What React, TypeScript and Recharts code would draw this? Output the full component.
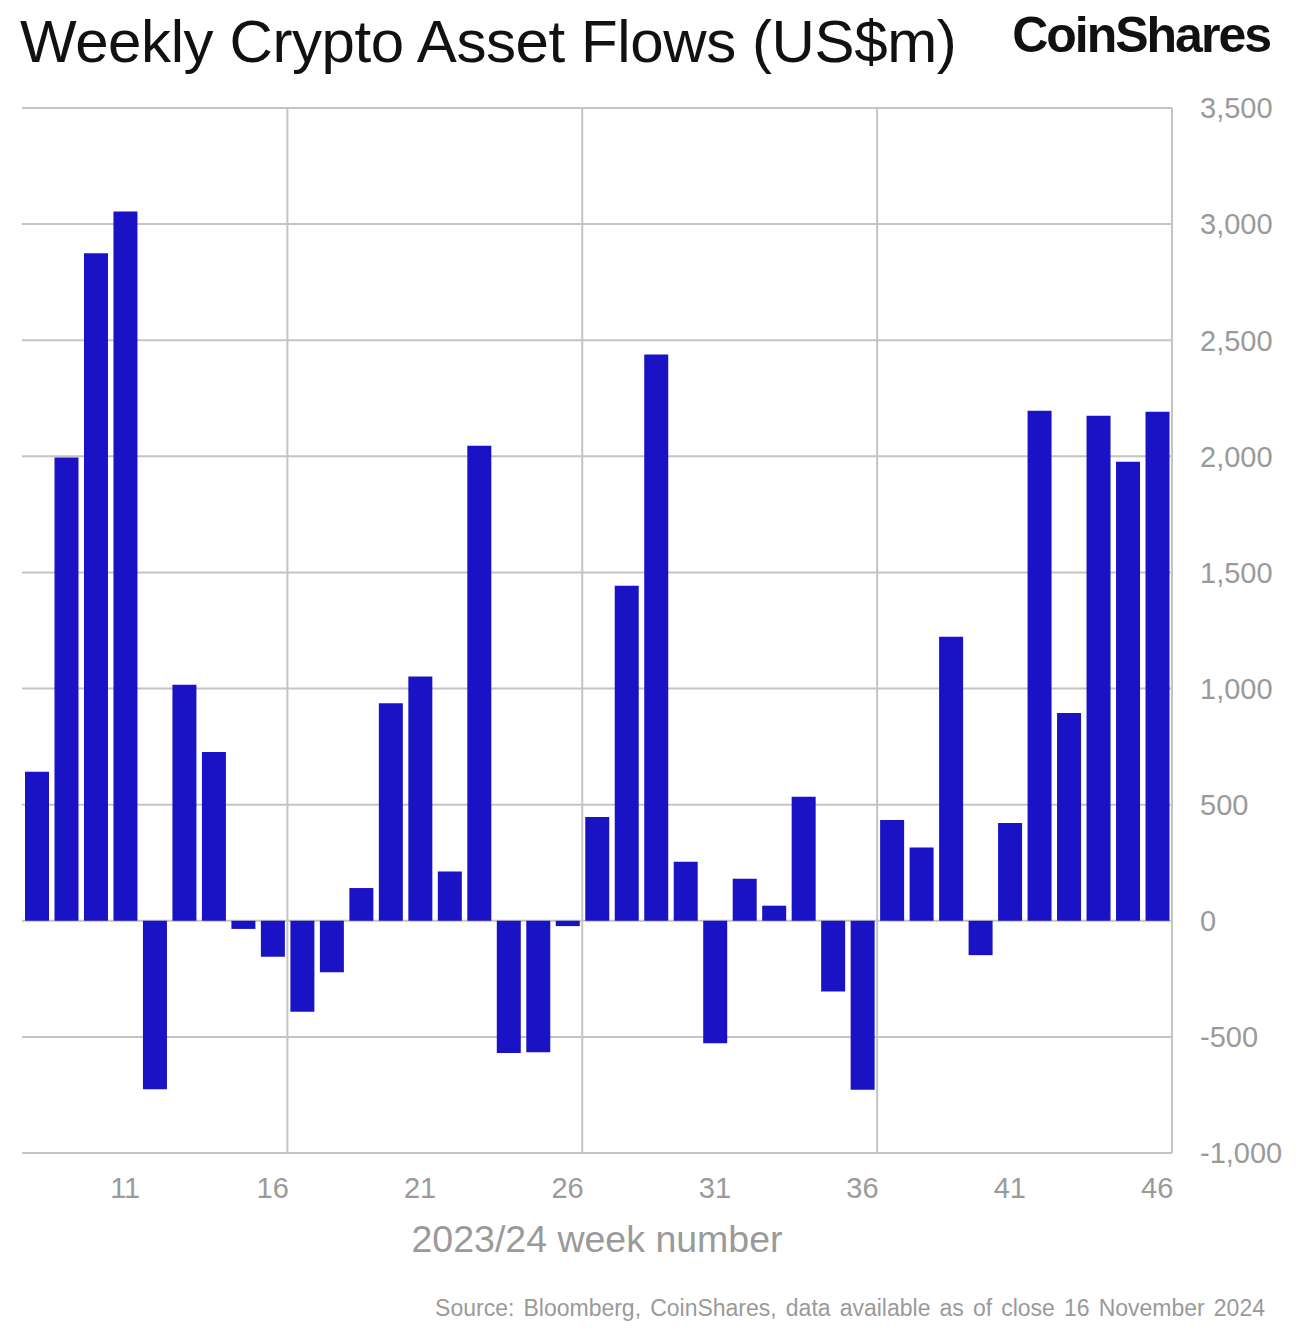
import React from 'react';
import {
  BarChart,
  Bar,
  XAxis,
  YAxis,
  CartesianGrid,
  ReferenceLine,
} from 'recharts';

const weeks = [
  8, 9, 10, 11, 12, 13, 14, 15, 16, 17, 18, 19, 20, 21, 22, 23, 24, 25, 26, 27,
  28, 29, 30, 31, 32, 33, 34, 35, 36, 37, 38, 39, 40, 41, 42, 43, 44, 45, 46,
];
const flows = [
  642, 1995, 2875, 3054, -725, 1016, 727, -35, -155, -392, -222, 141, 937, 1052,
  212, 2046, -569, -566, -23, 447, 1443, 2438, 254, -527, 181, 65, 534, -305,
  -728, 434, 316, 1223, -148, 421, 2196, 895, 2175, 1977, 2192,
];
const weekTicks = [11, 16, 21, 26, 31, 36, 41, 46];
const flowTicks = [-1000, -500, 0, 500, 1000, 1500, 2000, 2500, 3000, 3500];
const weekDomain = [7.5, 46.5];
// boundaries between decades of weeks, drawn as vertical grid lines
const gridWeeks = [16.5, 26.5, 36.5];

const BAR = '#1a13c5';
const GRID = '#c4c4c4';
const MUTED = '#9a9a9a';
const FONT = '"Liberation Sans", Arial, sans-serif';

const data = weeks.map((week, i) => ({ week, flow: flows[i] }));

export default function App() {
  return (
    <div
      style={{
        position: 'absolute',
        left: 0,
        top: 0,
        width: 1304,
        height: 1334,
        background: '#fff',
        fontFamily: FONT,
      }}
    >
      <div
        style={{
          position: 'absolute',
          left: 20,
          top: 12,
          fontSize: 60,
          lineHeight: 1,
          letterSpacing: -0.4,
          color: '#111',
          whiteSpace: 'nowrap',
        }}
      >
        Weekly Crypto Asset Flows (US$m)
      </div>
      <div
        style={{
          position: 'absolute',
          right: 34,
          top: 10,
          fontSize: 50,
          fontWeight: 700,
          lineHeight: 1,
          letterSpacing: -2,
          color: '#111',
          whiteSpace: 'nowrap',
        }}
      >
        CoinShares
      </div>

      <div style={{ position: 'absolute', left: 0, top: 0 }}>
        <BarChart
          width={1304}
          height={1334}
          data={data}
          margin={{ top: 108, right: 0, left: 22, bottom: 71 }}
        >
          <CartesianGrid vertical={false} stroke={GRID} strokeWidth={2} />
          {gridWeeks.map((w) => (
            <ReferenceLine key={w} x={w} stroke={GRID} strokeWidth={2} />
          ))}
          <XAxis
            dataKey="week"
            type="number"
            domain={weekDomain}
            ticks={weekTicks}
            axisLine={false}
            tickLine={false}
            tickMargin={18}
            height={110}
            tick={{ fill: MUTED, fontSize: 29, fontFamily: FONT }}
            label={{
              value: '2023/24 week number',
              position: 'insideBottom',
              offset: 11,
              fill: MUTED,
              fontSize: 37.5,
              fontFamily: FONT,
            }}
          />
          <YAxis
            orientation="right"
            width={132}
            domain={[-1000, 3500]}
            ticks={flowTicks}
            axisLine={{ stroke: GRID, strokeWidth: 2 }}
            tickLine={false}
            tickMargin={22}
            tickFormatter={(v: number) => v.toLocaleString('en-US')}
            tick={{ fill: MUTED, fontSize: 29, fontFamily: FONT, textAnchor: 'start' }}
          />
          <Bar dataKey="flow" fill={BAR} barSize={24} isAnimationActive={false} />
        </BarChart>
      </div>

      <div
        style={{
          position: 'absolute',
          right: 39,
          top: 1297,
          fontSize: 23,
          lineHeight: 1,
          wordSpacing: 2.7,
          color: MUTED,
          whiteSpace: 'nowrap',
        }}
      >
        Source: Bloomberg, CoinShares, data available as of close 16 November 2024
      </div>
    </div>
  );
}
